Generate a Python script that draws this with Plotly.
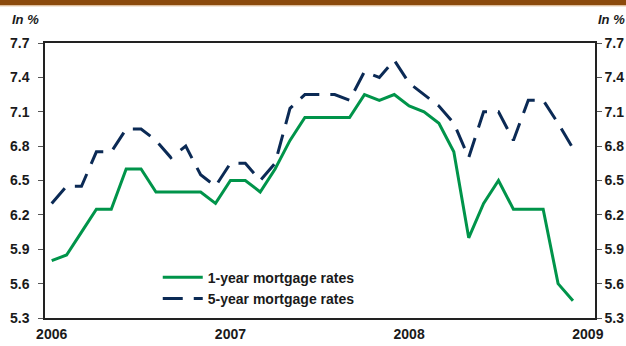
import plotly.graph_objects as go

months = list(range(36))  # Jan 2006 .. Dec 2008
one_year = [5.80, 5.85, 6.05, 6.25, 6.25, 6.60, 6.60, 6.40, 6.40, 6.40, 6.40, 6.30,
            6.50, 6.50, 6.40, 6.60, 6.85, 7.05, 7.05, 7.05, 7.05, 7.25, 7.20, 7.25,
            7.15, 7.10, 7.00, 6.75, 6.00, 6.30, 6.50, 6.25, 6.25, 6.25, 5.60, 5.45]
five_year = [6.30, 6.45, 6.45, 6.75, 6.75, 6.95, 6.95, 6.85, 6.70, 6.80, 6.55, 6.45,
             6.65, 6.65, 6.50, 6.65, 7.13, 7.25, 7.25, 7.25, 7.20, 7.45, 7.40, 7.55,
             7.35, 7.25, 7.15, 7.00, 6.70, 7.10, 7.10, 6.85, 7.20, 7.20, 7.00, 6.78]
year_ticks = [0, 12, 24, 36]
year_labels = ["2006", "2007", "2008", "2009"]
y_ticks = [5.3, 5.6, 5.9, 6.2, 6.5, 6.8, 7.1, 7.4, 7.7]

FONT = "Arial, Liberation Sans, sans-serif"
GREEN = "#00944A"
NAVY = "#0B2A55"
TXT = "#1a1a1a"

fig = go.Figure()
fig.add_trace(go.Scatter(x=months, y=one_year, mode="lines", name="1-year mortgage rates",
                         line=dict(color=GREEN, width=3)))
fig.add_trace(go.Scatter(x=months, y=five_year, mode="lines", name="5-year mortgage rates",
                         line=dict(color=NAVY, width=3, dash="20px,11px")))
# invisible trace to activate right axis
fig.add_trace(go.Scatter(x=[months[0]], y=[five_year[0]], yaxis="y2", mode="lines",
                         showlegend=False, hoverinfo="skip", line=dict(width=0)))

H = 346
top, bottom = 42.7, 318
plot_h = bottom - top
tickfont = dict(family=FONT, size=14, color=TXT, weight="bold")

fig.update_layout(
    width=626, height=H,
    margin=dict(l=45, r=31, t=top, b=H - bottom, autoexpand=False),
    paper_bgcolor="white", plot_bgcolor="white",
    font=dict(family=FONT, size=14, color=TXT),
    showlegend=True,
    legend=dict(x=0.205, y=0.205, xanchor="left", yanchor="top",
                bgcolor="rgba(0,0,0,0)",
                font=dict(family=FONT, size=14, color=TXT, weight="bold"),
                itemwidth=40, tracegroupgap=0),
    xaxis=dict(range=[-0.45, 36.48], tickvals=year_ticks, ticktext=year_labels,
               showgrid=False, zeroline=False, showline=True, linecolor="#222",
               linewidth=1.5, mirror=True, ticks="", ticklabelstandoff=2,
               automargin=False, tickfont=tickfont),
    yaxis=dict(range=[5.3, 7.7], tickvals=y_ticks, tickformat=".1f",
               showgrid=False, zeroline=False, showline=True, linecolor="#222",
               linewidth=1.5, ticks="outside", ticklen=5, tickcolor="#555",
               ticklabelstandoff=6, automargin=False, tickfont=tickfont),
    yaxis2=dict(range=[5.3, 7.7], tickvals=y_ticks, tickformat=".1f", overlaying="y",
                side="right", showgrid=False, zeroline=False, showline=True,
                linecolor="#222", linewidth=1.5, ticks="outside", ticklen=5,
                tickcolor="#555", ticklabelstandoff=0, automargin=False,
                tickfont=tickfont),
    shapes=[dict(type="rect", xref="paper", yref="paper", x0=-1, x1=2,
                 y0=1 + (top - 5) / plot_h, y1=1 + (top + 2) / plot_h,
                 fillcolor="#8B4A0C", line=dict(width=0), layer="above"),
            dict(type="line", xref="paper", yref="paper", x0=-1, x1=2,
                 y0=1 + (top - 5.5) / plot_h, y1=1 + (top - 5.5) / plot_h,
                 line=dict(color="#D9B48A", width=1))],
    annotations=[
        dict(text="<b><i>In %</i></b>", xref="paper", yref="paper",
             x=(25 - 45) / 550, y=1 + (top - 19) / plot_h, xanchor="center", yanchor="middle",
             showarrow=False, font=dict(family=FONT, size=13, color=TXT)),
        dict(text="<b><i>In %</i></b>", xref="paper", yref="paper",
             x=(611 - 45) / 550, y=1 + (top - 19) / plot_h, xanchor="center", yanchor="middle",
             showarrow=False, font=dict(family=FONT, size=13, color=TXT)),
    ],
)

fig.write_html("out.html")
